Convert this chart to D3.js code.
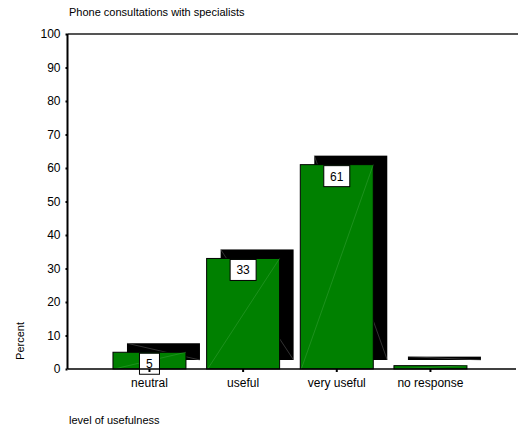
<!DOCTYPE html>
<html>
<head>
<meta charset="utf-8">
<script src="https://cdn.jsdelivr.net/npm/d3@7"></script>
<style>
  body { margin: 0; background: #fff; }
  text { font-family: Arial, "Liberation Sans", sans-serif; fill: #000; }
</style>
</head>
<body>
<div id="chart"></div>
<script>
// Data
var categories = ["neutral", "useful", "very useful", "no response"];
var percents   = [5, 33, 61, 1];
var labels     = ["5", "33", "61", ""];
var yTicks     = [0, 10, 20, 30, 40, 50, 60, 70, 80, 90, 100];

// Layout (note: "top" is reserved on window, so use plotTop)
var width   = 518,
    height  = 430,
    axisX   = 67.5,
    plotTop = 34,
    plotBot = 369,
    shadowDx = 14,
    shadowDy = -9;

var svg = d3.select("#chart")
    .append("svg")
    .attr("width", width)
    .attr("height", height);

var y = d3.scaleLinear()
    .domain([0, 100])
    .range([plotBot, plotTop]);

var x = d3.scaleBand()
    .domain(categories)
    .range([92.3, 487.6])
    .padding(0.2207);

var rows = categories.map(function(c, i) {
    return { cat: c, value: percents[i], label: labels[i] };
});

// top frame line (grey)
svg.append("line")
    .attr("x1", axisX).attr("x2", width)
    .attr("y1", plotTop).attr("y2", plotTop)
    .attr("stroke", "#555").attr("stroke-width", 2);

// shadows
var sh = svg.append("g").selectAll("g")
    .data(rows)
    .enter().append("g");

sh.append("rect")
    .attr("x", function(d) { return x(d.cat) + shadowDx; })
    .attr("y", function(d) { return y(d.value) + shadowDy; })
    .attr("width", x.bandwidth())
    .attr("height", function(d) { return Math.max(2.5, plotBot - y(d.value)); })
    .attr("fill", "#000");

sh.append("line")
    .attr("x1", function(d) { return x(d.cat) + shadowDx; })
    .attr("y1", function(d) { return y(d.value) + shadowDy; })
    .attr("x2", function(d) { return x(d.cat) + shadowDx + x.bandwidth(); })
    .attr("y2", plotBot + shadowDy)
    .attr("stroke", "#666").attr("stroke-width", 0.5);

// bars
var bars = svg.append("g").selectAll("g")
    .data(rows)
    .enter().append("g");

bars.append("rect")
    .attr("x", function(d) { return x(d.cat); })
    .attr("y", function(d) { return y(d.value); })
    .attr("width", x.bandwidth())
    .attr("height", function(d) { return plotBot - y(d.value); })
    .attr("fill", "#008000")
    .attr("stroke", "#000").attr("stroke-width", 1);

bars.append("line")
    .attr("x1", function(d) { return x(d.cat) + 1; })
    .attr("y1", plotBot)
    .attr("x2", function(d) { return x(d.cat) + x.bandwidth(); })
    .attr("y2", function(d) { return y(d.value); })
    .attr("stroke", "#4aaa4a").attr("stroke-width", 0.4);

// value label boxes
var lab = svg.append("g").selectAll("g")
    .data(rows.filter(function(d) { return d.label !== ""; }))
    .enter().append("g")
    .attr("transform", function(d) {
        return "translate(" + (x(d.cat) + x.bandwidth() / 2) + "," + (y(d.value) + 1) + ")";
    });

lab.append("rect")
    .attr("x", function(d) { return -(d.label.length > 1 ? 13 : 10); })
    .attr("y", 0)
    .attr("width", function(d) { return d.label.length > 1 ? 26 : 20; })
    .attr("height", 21)
    .attr("fill", "#fff")
    .attr("stroke", "#000").attr("stroke-width", 1);

lab.append("text")
    .attr("text-anchor", "middle")
    .attr("y", 15)
    .style("font-size", "12px")
    .text(function(d) { return d.label; });

// y axis
var yAxis = svg.append("g")
    .attr("transform", "translate(" + axisX + ",0)")
    .call(d3.axisLeft(y).tickValues(yTicks).tickSize(2).tickPadding(5));
yAxis.select(".domain").attr("stroke", "#000").attr("stroke-width", 2)
    .attr("d", "M0," + plotTop + "V" + plotBot);
yAxis.selectAll(".tick line").attr("stroke-width", 2);
yAxis.selectAll(".tick text").style("font-size", "12px")
    .style("font-family", "Arial, 'Liberation Sans', sans-serif");

// x axis
var xAxis = svg.append("g")
    .attr("transform", "translate(0," + plotBot + ")")
    .call(d3.axisBottom(x).tickSize(3).tickPadding(6));
xAxis.select(".domain").attr("stroke", "#000").attr("stroke-width", 1.5)
    .attr("d", "M" + axisX + ",0H516");
xAxis.selectAll(".tick line").attr("stroke-width", 2);
xAxis.selectAll(".tick text").style("font-size", "12px")
    .style("font-family", "Arial, 'Liberation Sans', sans-serif");

// titles
svg.append("text")
    .attr("x", 69).attr("y", 16)
    .style("font-size", "11px")
    .text("Phone consultations with specialists");

svg.append("text")
    .attr("transform", "translate(24,341) rotate(-90)")
    .attr("text-anchor", "middle")
    .style("font-size", "11px")
    .text("Percent");

svg.append("text")
    .attr("x", 69).attr("y", 424)
    .style("font-size", "11px")
    .text("level of usefulness");
</script>
</body>
</html>
